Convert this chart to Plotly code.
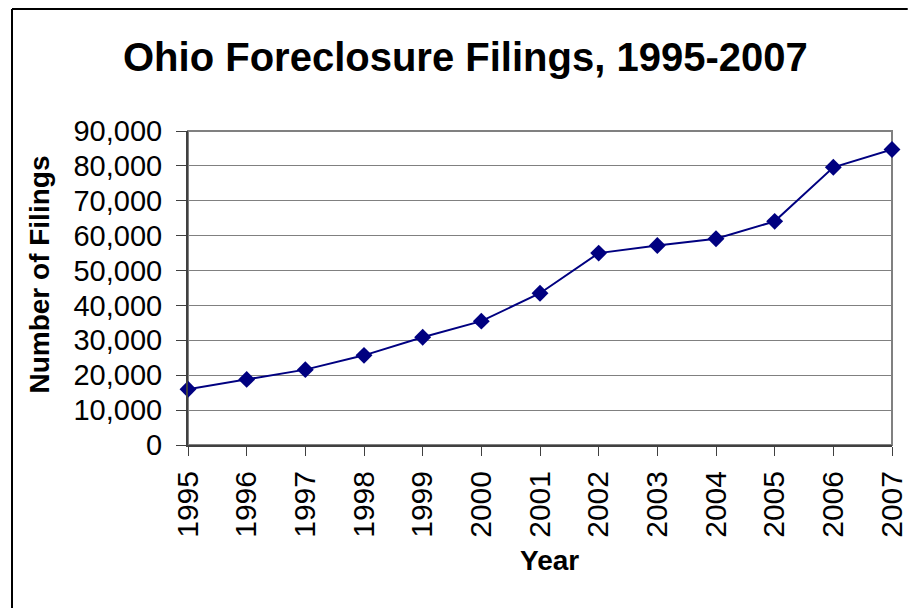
import plotly.graph_objects as go

years = [1995, 1996, 1997, 1998, 1999, 2000, 2001, 2002, 2003, 2004, 2005, 2006, 2007]
filings = [16000, 18800, 21600, 25700, 30900, 35500, 43500, 55000, 57200, 59100, 64100, 79600, 84700]
y_ticks = [0, 10000, 20000, 30000, 40000, 50000, 60000, 70000, 80000, 90000]

FONT = "Liberation Sans, Arial, sans-serif"
W, H = 920, 608
L, T = 188, 131
R = W - 904
B = H - 445
pw, ph = W - L - R, H - T - B

def px(x):
    return (x - L) / pw

def py(y):
    return (H - B - y) / ph

fig = go.Figure()
fig.add_trace(go.Scatter(
    x=years, y=filings, mode="lines+markers",
    line=dict(color="#000080", width=2),
    marker=dict(symbol="diamond", size=13, color="#000080"),
    cliponaxis=False, showlegend=False,
))

fig.update_layout(
    width=W, height=H,
    margin=dict(l=L, r=R, t=T, b=B, pad=0),
    paper_bgcolor="white", plot_bgcolor="white",
    font=dict(family=FONT, color="black"),
    xaxis=dict(
        range=[1995, 2007], tickvals=years, ticktext=[str(y) for y in years],
        tickangle=-90, tickfont=dict(size=30, family=FONT),
        showgrid=False, zeroline=False,
        showline=True, linecolor="#404040", linewidth=2,
        ticks="outside", ticklen=9, tickcolor="#404040", tickwidth=1,
        ticklabelstandoff=3, ticklabeloverflow="allow",
    ),
    yaxis=dict(
        range=[0, 90000], tickvals=y_ticks, tickformat=",d",
        tickfont=dict(size=29, family=FONT),
        showgrid=True, gridcolor="#808080", gridwidth=1, zeroline=False,
        showline=True, linecolor="#404040", linewidth=2,
        ticks="outside", ticklen=10, tickcolor="#404040", tickwidth=1,
        ticklabelstandoff=8, ticklabeloverflow="allow",
    ),
    shapes=[
        dict(type="rect", xref="paper", yref="paper", x0=0, x1=1, y0=0, y1=1,
             line=dict(color="#808080", width=2), layer="below"),
        # outer chart frame (left and top edges visible in the window)
        dict(type="line", xref="paper", yref="paper",
             x0=px(9), x1=px(920), y0=py(9), y1=py(9),
             line=dict(color="black", width=2)),
        dict(type="line", xref="paper", yref="paper",
             x0=px(9), x1=px(9), y0=py(9), y1=py(608),
             line=dict(color="black", width=2)),
    ],
    annotations=[
        dict(text="<b>Ohio Foreclosure Filings, 1995-2007</b>", xref="paper", yref="paper",
             x=px(470), y=py(57), xanchor="center", yanchor="middle", showarrow=False,
             font=dict(size=40, family=FONT, color="black")),
        dict(text="<b>Number of Filings</b>", xref="paper", yref="paper",
             x=px(36), y=py(275), xanchor="center", yanchor="middle", showarrow=False,
             textangle=-90, font=dict(size=28, family=FONT, color="black")),
        dict(text="<b>Year</b>", xref="paper", yref="paper",
             x=px(556), y=py(560), xanchor="center", yanchor="middle", showarrow=False,
             font=dict(size=28, family=FONT, color="black")),
    ],
)

page_css = (
    "var s=document.createElement('style');"
    "s.textContent='html,body{margin:0;padding:0;overflow:hidden;width:920px;height:608px}"
    ".js-plotly-plot,.plot-container,.svg-container,.main-svg{overflow:hidden !important}';"
    "document.head.appendChild(s);"
)

fig.write_html(
    "out.html",
    config={"displayModeBar": False},
    post_script=page_css,
)
